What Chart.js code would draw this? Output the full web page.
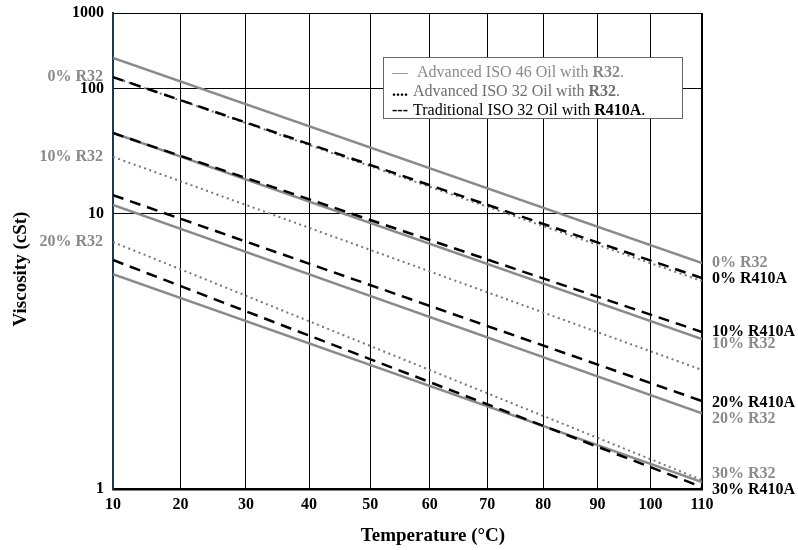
<!DOCTYPE html>
<html lang="en">
<head>
<meta charset="UTF-8">
<title>Viscosity vs Temperature</title>
<script src="https://cdn.jsdelivr.net/npm/chart.js"></script>
<style>
    body { margin: 0; background: #fff; }
</style>
</head>
<body>
<canvas id="viscChart" width="798" height="550"></canvas>
<script>
// chart ends where the lines were read (degC)
const temps = [10, 110];
const mixLabels = ['0%', '10%', '20%', '30%'];

// viscosity in cSt at 10 and 110 degC, one pair per refrigerant content
const iso46R32 = [[229, 5.47], [37.6, 2.65], [11.3, 1.54], [4.86, 1.036]];
const iso32R32 = [[135, 4.52], [24.1, 2.08], [6.97, 1.047]];
const iso32R410A = [[135, 4.66], [37.6, 2.81], [13.0, 1.67], [5.66, 1.010]];

const xTicks = [10, 20, 30, 40, 50, 60, 70, 80, 90, 100, 110];
const yTicks = [1, 10, 100, 1000];

// ASTM style axes: log of absolute temperature, log-log of viscosity
const K = t => Math.log10(t + 273.15);
const W = v => Math.log10(Math.log10(v + 0.73));

const GRAY = '#8a8a8a';
const serif = "'Liberation Serif', 'Times New Roman', serif";

function pts(pair) {
    return temps.map((t, i) => ({ x: K(t), y: W(pair[i]) }));
}

const datasets = [];
iso32R410A.forEach((p, i) => datasets.push({
    label: 'Traditional ISO 32 Oil with R410A ' + mixLabels[i],
    data: pts(p), borderColor: '#000', borderWidth: 2.5, borderDash: [11, 7], order: 1
}));
iso32R32.forEach((p, i) => datasets.push({
    label: 'Advanced ISO 32 Oil with R32 ' + mixLabels[i],
    data: pts(p), borderColor: '#777', borderWidth: 2, borderDash: [2, 3.5], order: 2
}));
iso46R32.forEach((p, i) => datasets.push({
    label: 'Advanced ISO 46 Oil with R32 ' + mixLabels[i],
    data: pts(p), borderColor: GRAY, borderWidth: 2.5, order: 3
}));

// axis titles, text labels at both ends of the lines, and the boxed key
const annotate = {
    id: 'annotate',
    afterDatasetsDraw(chart) {
        const { ctx, chartArea: a, scales: { y } } = chart;
        const bold = "bold 16px " + serif;
        const reg = "16px " + serif;
        ctx.save();

        // axis titles
        ctx.font = "bold 19px " + serif;
        ctx.fillStyle = '#000';
        ctx.textAlign = 'center';
        ctx.textBaseline = 'alphabetic';
        ctx.fillText('Temperature (\u00B0C)', 433, 541);
        ctx.save();
        ctx.translate(26, 269);
        ctx.rotate(-Math.PI / 2);
        ctx.fillText('Viscosity (cSt)', 0, 0);
        ctx.restore();

        ctx.textBaseline = 'middle';

        // left, at the start of the ISO 32 / R32 lines
        ctx.font = bold;
        ctx.fillStyle = GRAY;
        ctx.textAlign = 'right';
        iso32R32.forEach((p, i) => {
            ctx.fillText(mixLabels[i] + ' R32', a.left - 10, y.getPixelForValue(W(p[0])));
        });

        // right side
        const right = [
            [mixLabels[0] + ' R32', GRAY, iso46R32[0][1], 0],
            [mixLabels[0] + ' R410A', '#000', iso32R410A[0][1], 1],
            [mixLabels[1] + ' R410A', '#000', iso32R410A[1][1], 0],
            [mixLabels[1] + ' R32', GRAY, iso46R32[1][1], 5],
            [mixLabels[2] + ' R410A', '#000', iso32R410A[2][1], 2],
            [mixLabels[2] + ' R32', GRAY, iso46R32[2][1], 5],
            [mixLabels[3] + ' R32', GRAY, iso46R32[3][1], -8],
            [mixLabels[3] + ' R410A', '#000', iso32R410A[3][1], 3]
        ];
        ctx.textAlign = 'left';
        right.forEach(([t, c, v, dy]) => {
            ctx.fillStyle = c;
            ctx.fillText(t, a.right + 10, y.getPixelForValue(W(v)) + dy);
        });

        // key box
        const bx = a.left + 270, by = a.top + 44;
        ctx.fillStyle = '#fff';
        ctx.fillRect(bx, by, 299, 61);
        ctx.strokeStyle = '#666';
        ctx.lineWidth = 1;
        ctx.strokeRect(bx + 0.5, by + 0.5, 299, 61);

        const rows = [
            [['\u2014', reg, GRAY, 9], ['Advanced ISO 46 Oil with ', reg, GRAY, 34], ['R32', bold, GRAY], ['.', reg, GRAY]],
            [['....', bold, '#000', 9], ['Advanced ISO 32 Oil with ', reg, '#6e6e6e', 30], ['R32', bold, '#6e6e6e'], ['.', reg, '#6e6e6e']],
            [['---', bold, '#000', 9], ['Traditional ISO 32 Oil with ', reg, '#000', 30], ['R410A', bold, '#000'], ['.', reg, '#000']]
        ];
        rows.forEach((row, r) => {
            const ry = by + 16 + r * 19;
            let cx = bx;
            row.forEach(([t, f, c, at]) => {
                if (at !== undefined) cx = bx + at;
                ctx.font = f;
                ctx.fillStyle = c;
                ctx.fillText(t, cx, ry);
                cx += ctx.measureText(t).width;
            });
        });
        ctx.restore();
    }
};

const ctx = document.getElementById('viscChart').getContext('2d');
new Chart(ctx, {
    type: 'line',
    data: { datasets: datasets },
    options: {
        responsive: false,
        animation: false,
        elements: { point: { radius: 0 }, line: { tension: 0 } },
        layout: { padding: { top: 13, right: 96, left: 0, bottom: 0 } },
        plugins: { legend: { display: false }, tooltip: { enabled: false } },
        scales: {
            x: {
                type: 'linear',
                min: K(xTicks[0]),
                max: K(xTicks[xTicks.length - 1]),
                afterBuildTicks: s => { s.ticks = xTicks.map(t => ({ value: K(t) })); },
                afterFit: s => { s.height = 61; s.paddingLeft = 0; s.paddingRight = 0; },
                ticks: {
                    callback: (v, i) => xTicks[i],
                    color: '#000',
                    font: { family: serif, size: 16, weight: 'bold' },
                    padding: 6,
                    maxRotation: 0,
                    autoSkip: false
                },
                grid: {
                    color: '#000',
                    lineWidth: c => (c.index === xTicks.length - 1 ? 2 : 1),
                    drawTicks: false
                },
                border: { color: '#000', width: 2.5 }
            },
            y: {
                type: 'linear',
                min: W(yTicks[0]),
                max: W(yTicks[yTicks.length - 1]),
                afterBuildTicks: s => { s.ticks = yTicks.map(v => ({ value: W(v) })); },
                afterFit: s => { s.width = 113; s.paddingTop = 0; s.paddingBottom = 0; },
                ticks: {
                    callback: (v, i) => yTicks[i],
                    color: '#000',
                    font: { family: serif, size: 16, weight: 'bold' },
                    padding: 9,
                    autoSkip: false
                },
                grid: { color: '#000', lineWidth: 1, drawTicks: false },
                border: { color: '#1f3550', width: 2 }
            }
        }
    },
    plugins: [annotate]
});
</script>
</body>
</html>
